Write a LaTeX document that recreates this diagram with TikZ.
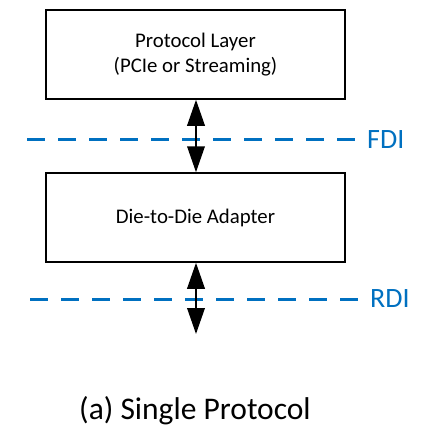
\documentclass[tikz,border=0pt]{standalone}
\usepackage{fontspec}
\setmainfont{Carlito}
\usetikzlibrary{arrows.meta}
\definecolor{ifblue}{RGB}{0,112,192}
\tikzset{
  layer/.style={draw, line width=1.5pt, minimum width=299pt, minimum height=89pt,
    align=center, font=\fontsize{20.8}{25}\selectfont},
  iface/.style={draw=ifblue, line width=3pt, dash pattern=on 18pt off 13pt},
  ifname/.style={text=ifblue, inner sep=0pt, anchor=west, font=\fontsize{28}{32}\selectfont},
  link/.style={{Triangle[length=26pt,width=17.5pt]}-{Triangle[length=26pt,width=17.5pt]}, line width=2pt}
}
\begin{document}
\begin{tikzpicture}[x=1pt, y=-1pt]
    \useasboundingbox (0,0) rectangle (425,440);

    % Layers
    \node[layer] (proto) at (195.5,54.5) {Protocol Layer\\(PCIe or Streaming)};
    \node[layer] (adapt) at (195.5,217.5) {Die-to-Die Adapter};

    % Interfaces
    \node[ifname] (fdi) at (367,140) {FDI};
    \coordinate (fdiL) at (27,139);
    \draw[iface] (fdiL) -- ([xshift=-10pt]fdi.west |- fdiL);

    \node[ifname] (rdi) at (370,299) {RDI};
    \coordinate (rdiL) at (30,299);
    \draw[iface] (rdiL) -- ([xshift=-10pt]rdi.west |- rdiL);

    % Links
    \draw[link] ([xshift=0.5pt]proto.south) -- ([xshift=0.5pt]adapt.north);
    \coordinate (phy) at (196,334);
    \draw[link] (adapt.south -| phy) -- (phy);

    % Caption
    \node[font=\fontsize{31.5}{36}\selectfont] (cap) at (195,411) {(a) Single Protocol};
\end{tikzpicture}
\end{document}
